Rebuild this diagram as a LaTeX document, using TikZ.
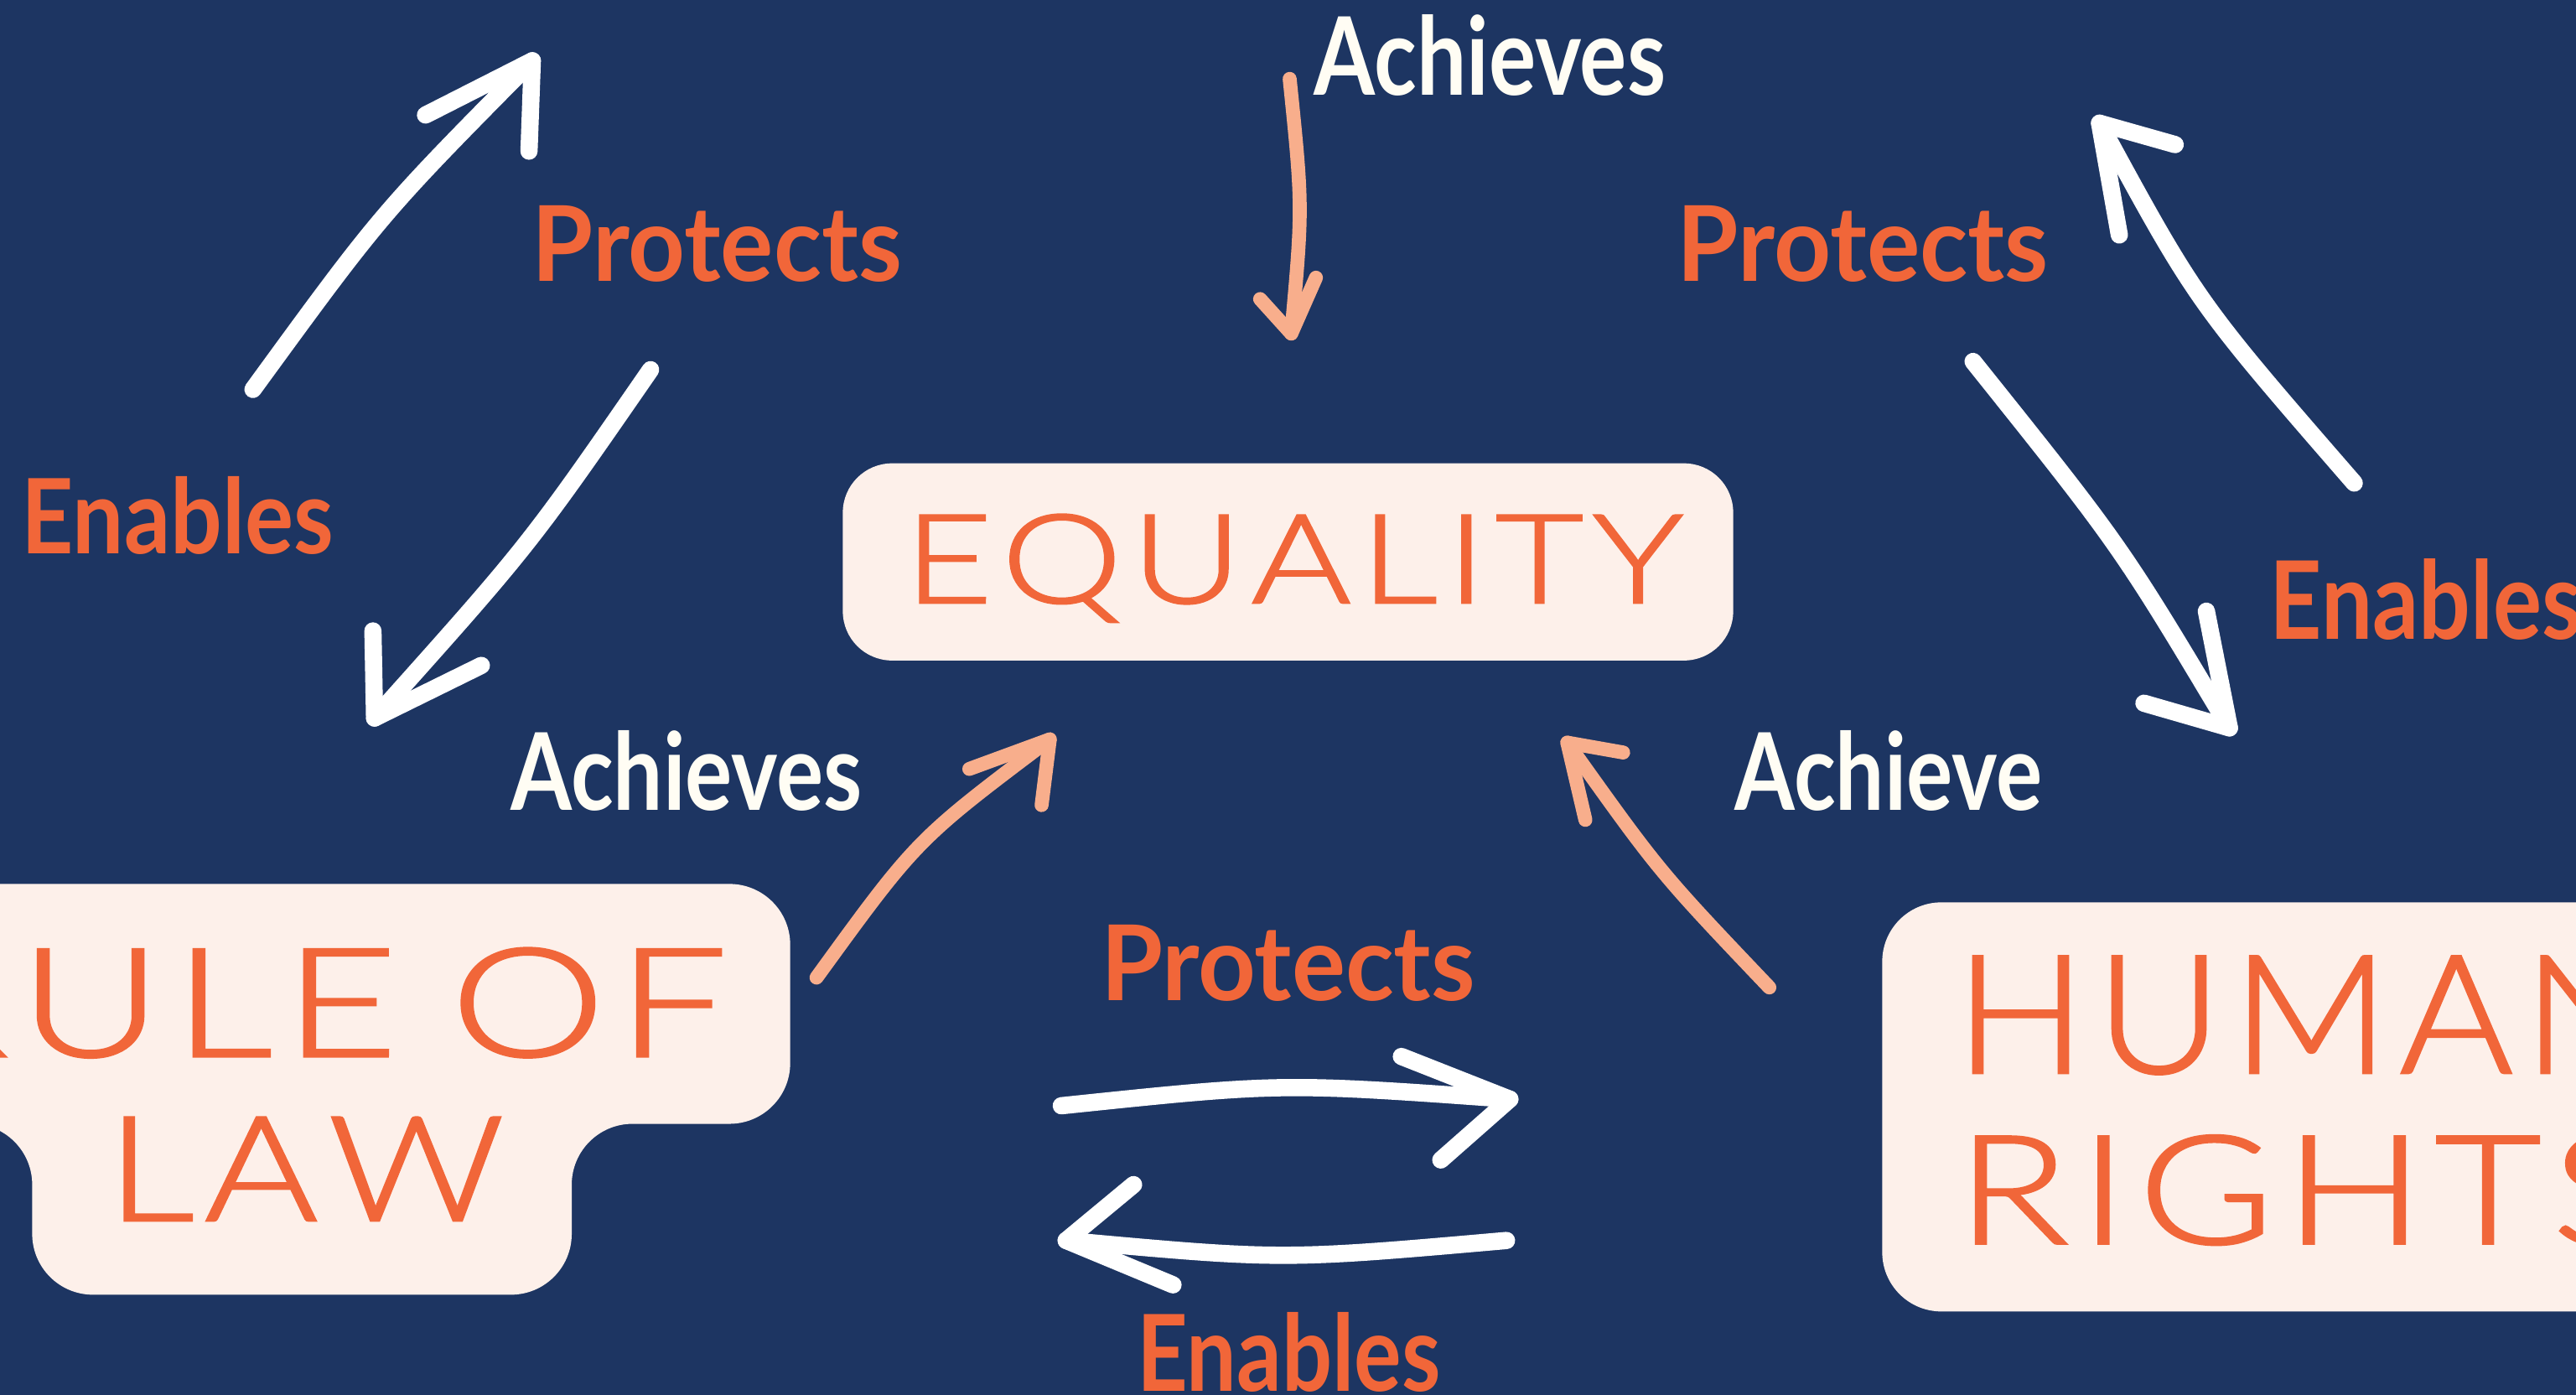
\documentclass[tikz,border=0pt]{standalone}
\usepackage{fontspec}
\usepackage{graphicx}
\setmainfont{Lato}
% thin capitals for the panel titles, falling back to the regular weight
\IfFontExistsTF{Lato Light}{\newfontfamily\boxfont{Lato Light}[FakeBold=1.5]}{\newfontfamily\boxfont{Lato}}
\usetikzlibrary{arrows.meta}

\definecolor{bgnavy}{HTML}{1D3562}
\definecolor{paper}{HTML}{FDF0EA}
\definecolor{ink}{HTML}{F16639}
\definecolor{peach}{HTML}{F8AE8C}
\definecolor{cream}{HTML}{FFFDF4}

% set a word of capitals with extra space between the letters
\makeatletter
\newcommand\spreadcaps[2]{{\def\sc@first{T}\@tfor\sc@c:=#2\do{\if T\sc@first\else\kern#1\fi\def\sc@first{F}\sc@c}}}
\makeatother

\tikzset{
  panel/.style={fill=paper, draw=none, inner sep=0pt},
  boxword/.style={text=ink, inner sep=0pt, font=\boxfont},
  linkword/.style={inner sep=0pt, anchor=base, font=\bfseries},
  fatline/.style={draw=white, line width=10.5pt, line cap=round, line join=round},
  softline/.style={draw=peach, line width=8.5pt, line cap=round, line join=round},
}

\begin{document}
\begin{tikzpicture}[x=1pt, y=-1pt]
\useasboundingbox (0,0) rectangle (1568,849);
\fill[bgnavy] (0,0) rectangle (1568,849);

% the three panels
\node[panel, minimum width=542pt, minimum height=120pt, rounded corners=30pt] (eqbox) at (784,342) {};
\fill[paper, rounded corners=37pt] (-200,538) -- (481,538) -- (481,684) -- (348,684)
  -- (348,788) -- (19.6,788) -- (19.6,684) -- (-200,684) -- cycle;
\node[panel, minimum width=620pt, minimum height=249pt, rounded corners=36pt, anchor=north west] (hrbox) at (1145.5,549) {};

% panel titles
\node[boxword, anchor=base] (eqtext) at (787.5,367) {\resizebox{474pt}{54pt}{\spreadcaps{0.06em}{EQUALITY}}};
\node[boxword, anchor=base east] (roltop) at (443,643) {\resizebox{510pt}{66pt}{\spreadcaps{0.06em}{RULE}\kern0.27em\spreadcaps{0.06em}{OF}}};
\node[boxword, anchor=base] (rolbottom) at (186,743) {\resizebox{242pt}{63pt}{\spreadcaps{0.06em}{LAW}}};
\node[boxword, anchor=base west] (hrtop) at (1190,653) {\resizebox{425pt}{71pt}{\spreadcaps{0.06em}{HUMAN}}};
\node[boxword, anchor=base west] (hrbottom) at (1191,757) {\resizebox{422pt}{66pt}{\spreadcaps{0.06em}{RIGHTS}}};

% relation words
\node[linkword, text=cream] (achtop) at (907,58) {\resizebox{214pt}{49pt}{Achieves}};
\node[linkword, text=ink] (protl) at (436.5,171) {\resizebox{225pt}{46pt}{Protects}};
\node[linkword, text=ink] (enal) at (108,337) {\resizebox{190pt}{47pt}{Enables}};
\node[linkword, text=cream] (achl) at (418,493) {\resizebox{214pt}{48.5pt}{Achieves}};
\node[linkword, text=ink] (protr) at (1134,171) {\resizebox{226pt}{46pt}{Protects}};
\node[linkword, text=ink] (enar) at (1476.6,389) {\resizebox{190pt}{49pt}{Enables}};
\node[linkword, text=cream] (achr) at (1149.5,493) {\resizebox{187pt}{48.5pt}{Achieve}};
\node[linkword, text=ink] (prob) at (784,609) {\resizebox{228pt}{46pt}{Protects}};
\node[linkword, text=ink] (enab) at (784.5,847) {\resizebox{185pt}{48pt}{Enables}};

% arrow tails, tips and barb ends
\coordinate (lu0) at (154,237);   \coordinate (lu1) at (324,37);
\coordinate (luA) at (259,70);    \coordinate (luB) at (322,92);
\coordinate (ld0) at (396,225);   \coordinate (ld1) at (228,437);
\coordinate (ldA) at (227,384);   \coordinate (ldB) at (293,405);
\coordinate (ru0) at (1433,294);  \coordinate (ru1) at (1278,75);
\coordinate (ruA) at (1324,88);   \coordinate (ruB) at (1290,143);
\coordinate (rd0) at (1201,220);  \coordinate (rd1) at (1357,443);
\coordinate (rdA) at (1343,372);  \coordinate (rdB) at (1305,428);
\coordinate (br0) at (646,673);   \coordinate (br1) at (919,669);
\coordinate (brA) at (853,643);   \coordinate (brB) at (877,706);
\coordinate (bl0) at (917,755);   \coordinate (bl1) at (649,755);
\coordinate (blA) at (690,721);   \coordinate (blB) at (714,782);
\coordinate (ta0) at (785,48);    \coordinate (ta1) at (786,203);
\coordinate (taA) at (767,182);   \coordinate (taB) at (801,169);
\coordinate (la0) at (497,595);   \coordinate (la1) at (639,450);
\coordinate (laA) at (590,468);   \coordinate (laB) at (634,490);
\coordinate (ra0) at (1077,601);  \coordinate (ra1) at (954,452);
\coordinate (raA) at (988,458);   \coordinate (raB) at (965,499);

% white two-way arrows: shaft, then open head
\draw[fatline] (lu0) .. controls (232,130) .. (lu1);
\draw[fatline] (luA) -- (lu1) -- (luB);
\draw[fatline] (ld0) .. controls (322,332) .. (ld1);
\draw[fatline] (ldA) -- (ld1) -- (ldB);
\draw[fatline] (ru0) .. controls (1337,183.5) .. (ru1);
\draw[fatline] (ruA) -- (ru1) -- (ruB);
\draw[fatline] (rd0) .. controls (1291,332.5) .. (rd1);
\draw[fatline] (rdA) -- (rd1) -- (rdB);
\draw[fatline] (br0) .. controls (780,659) .. (br1);
\draw[fatline] (brA) -- (br1) -- (brB);
\draw[fatline] (bl0) .. controls (780.5,767) .. (bl1);
\draw[fatline] (blA) -- (bl1) -- (blB);

% peach arrows into EQUALITY
\draw[softline] (ta0) .. controls (793,126) .. (ta1);
\draw[softline] (taA) -- (ta1) -- (taB);
\draw[softline] (la0) .. controls (558,511) .. (la1);
\draw[softline] (laA) -- (la1) -- (laB);
\draw[softline] (ra0) .. controls (1010,530.6) .. (ra1);
\draw[softline] (raA) -- (ra1) -- (raB);
\end{tikzpicture}
\end{document}
